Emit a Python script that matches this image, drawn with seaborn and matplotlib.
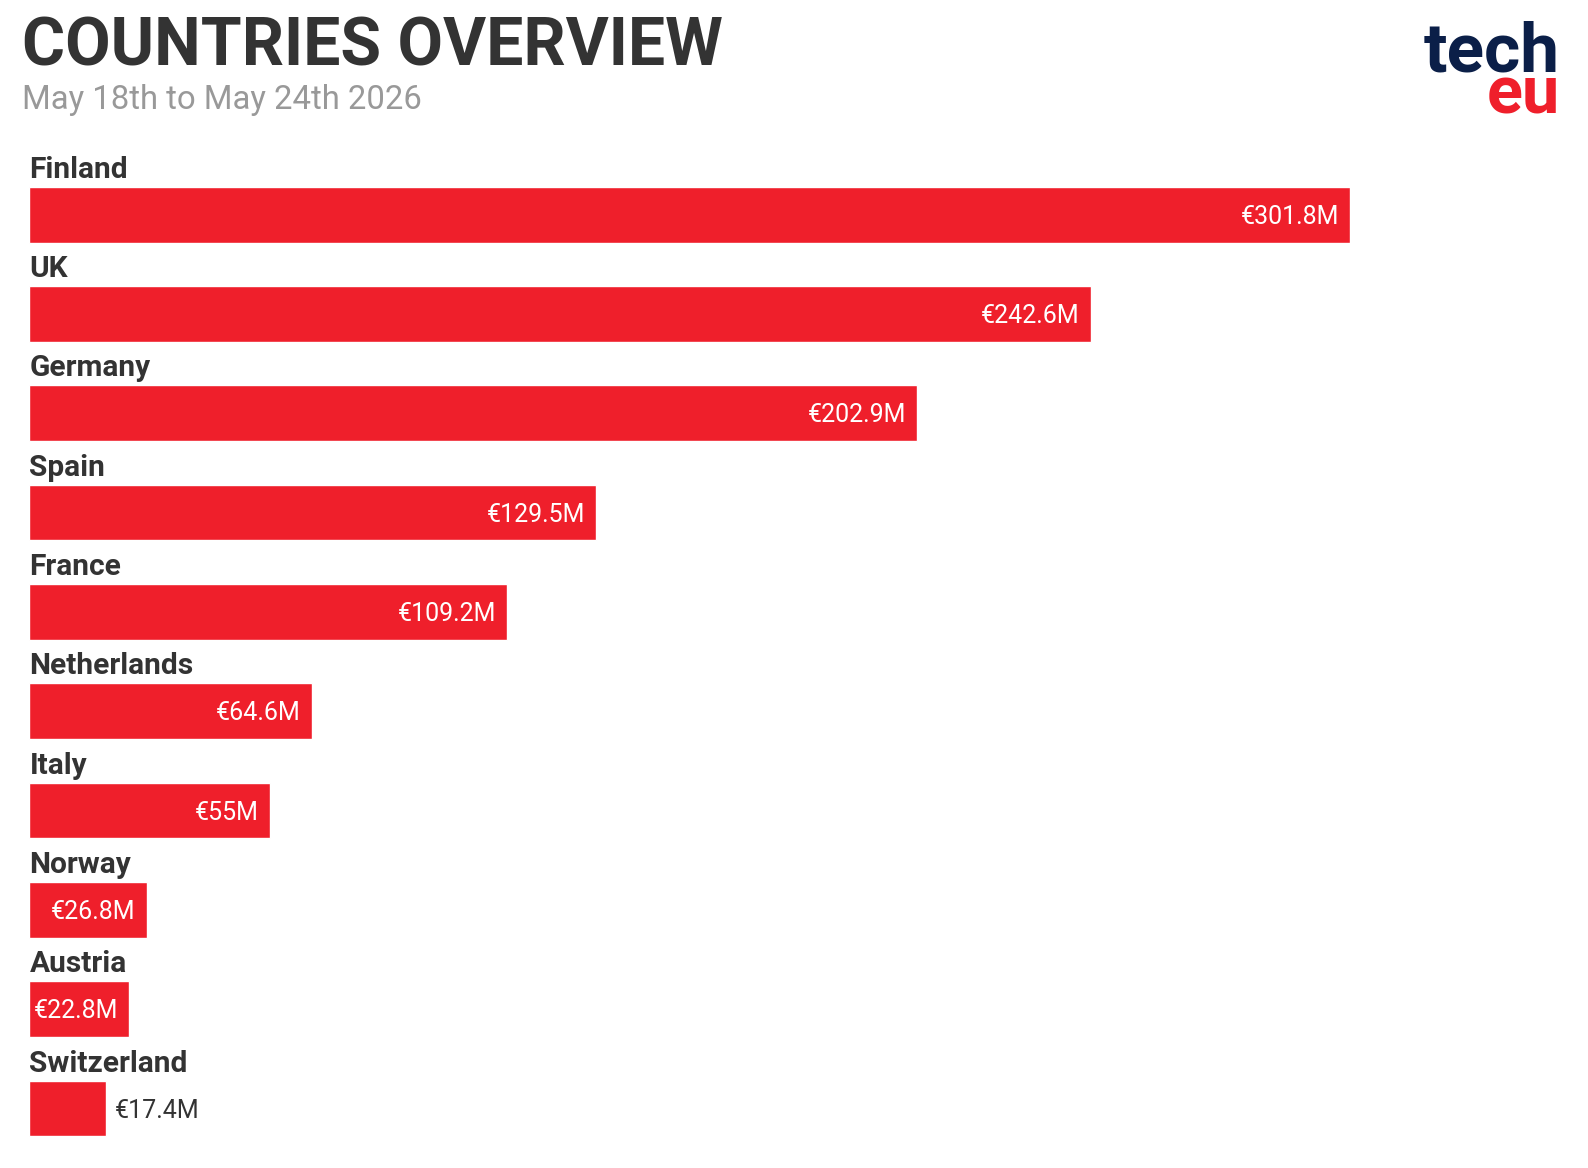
import pandas as pd
import seaborn as sns
import matplotlib.pyplot as plt

# Data (EUR millions)
countries = ["Finland", "UK", "Germany", "Spain", "France",
             "Netherlands", "Italy", "Norway", "Austria", "Switzerland"]
values = [301.8, 242.6, 202.9, 129.5, 109.2, 64.6, 55, 26.8, 22.8, 17.4]
value_labels = ["€301.8M", "€242.6M", "€202.9M", "€129.5M", "€109.2M",
                "€64.6M", "€55M", "€26.8M", "€22.8M", "€17.4M"]

df = pd.DataFrame({"country": countries, "value": values})

red = "#EF1F2B"
dark = "#333333"
navy = "#0B1F48"

sns.set_theme(style="white")
plt.rcParams['font.family'] = ['Roboto', 'DejaVu Sans']

W, H = 1588, 1168
fig = plt.figure(figsize=(W / 100, H / 100), dpi=100)

# axes placed so that bars line up with the reference
left_px, right_px = 29.4, 1350
top_px, bot_px = 165.0, 1158.2
ax = fig.add_axes([left_px / W, 1 - bot_px / H, (right_px - left_px) / W, (bot_px - top_px) / H])

sns.barplot(data=df, x="value", y="country", color=red, width=0.561,
            saturation=1, ax=ax)
ax.set_xlim(0, max(values))
ax.set_ylim(len(countries) - 0.5, -0.5)
ax.set_axis_off()

# country names above bars, value labels inside / outside bars
for i, (c, v, lab) in enumerate(zip(countries, values, value_labels)):
    ax.text(0, i - 0.371, c, ha="left", va="baseline", fontsize=21.5,
            fontweight="bold", color=dark, clip_on=False)
    if v > 20:
        ax.annotate(lab, (v, i), xytext=(-8, -1.5), textcoords="offset points",
                    ha="right", va="center", fontsize=18, color="white")
    else:
        ax.annotate(lab, (v, i), xytext=(6.5, -1.5), textcoords="offset points",
                    ha="left", va="center", fontsize=18, color=dark)

# title block
fig.text(22.3 / W, 1 - 65.8 / H, "COUNTRIES OVERVIEW", ha="left", va="baseline",
         fontsize=47.5, fontweight="bold", color=dark)
fig.text(22.3 / W, 1 - 109.4 / H, "May 18th to May 24th 2026", ha="left", va="baseline",
         fontsize=23.7, color="#999999")

# logo
fig.text(1560 / W, 1 - 71 / H, "tech", ha="right", va="baseline",
         fontsize=50, fontweight="bold", color=navy)
fig.text(1560 / W, 1 - 113.4 / H, "eu", ha="right", va="baseline",
         fontsize=48, fontweight="bold", color=red)

fig.savefig("out.png", dpi=100, facecolor="white")
